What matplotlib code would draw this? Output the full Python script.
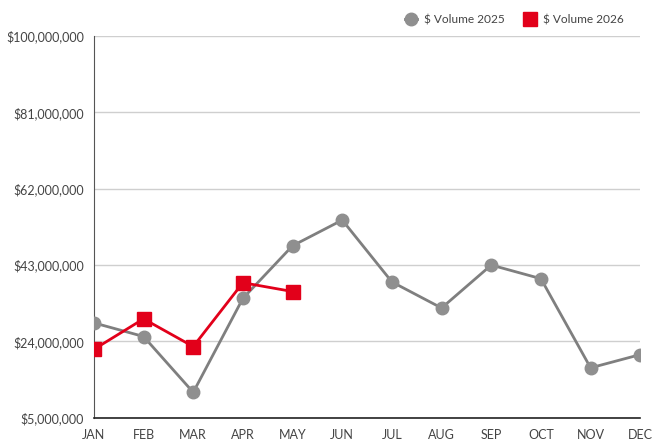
import matplotlib.pyplot as plt
from matplotlib.ticker import FuncFormatter

months = ['JAN', 'FEB', 'MAR', 'APR', 'MAY', 'JUN', 'JUL', 'AUG', 'SEP', 'OCT', 'NOV', 'DEC']
volume_2025 = [28.6, 25.2, 11.3, 34.7, 47.8, 54.2, 38.8, 32.3, 43.0, 39.6, 17.4, 20.7]  # $M
volume_2026 = [22.0, 29.6, 22.7, 38.6, 36.4]  # $M, Jan-May
yticks = [5, 24, 43, 62, 81, 100]

plt.rcParams['font.family'] = ['Lato', 'DejaVu Sans']

fig = plt.figure(figsize=(6.52, 4.41), dpi=100)
ax = fig.add_axes([0.144, 0.053, 0.838, 0.865])

x25 = range(len(volume_2025))
x26 = range(len(volume_2026))
ax.plot(x25, volume_2025, color='#7f7f7f', lw=2, marker='o', ms=9,
        mfc='#8f8f8f', mec='#8f8f8f', label='$ Volume 2025', zorder=3)
ax.plot(x26, volume_2026, color='#e2001a', lw=2, marker='s', ms=9.5,
        mfc='#e2001a', mec='#e2001a', label='$ Volume 2026', zorder=4)

ax.set_xlim(0, 11)
ax.set_ylim(5, 100)
ax.set_yticks(yticks)
ax.yaxis.set_major_formatter(FuncFormatter(lambda v, p: '${:,.0f}'.format(v * 1e6)))
ax.set_xticks(list(x25))
ax.set_xticklabels(months)
ax.tick_params(axis='both', length=0, labelsize=9, labelcolor='#444444')
ax.tick_params(axis='x', pad=8)
ax.tick_params(axis='y', pad=7)
ax.grid(axis='y', color='#cfcfcf', lw=1)
ax.set_axisbelow(True)

for side in ['top', 'right']:
    ax.spines[side].set_visible(False)
ax.spines['left'].set_color('#555555')
ax.spines['bottom'].set_color('#222222')
ax.spines['bottom'].set_linewidth(1.2)

ax.legend(loc='lower right', bbox_to_anchor=(0.99, 1.0), ncol=2, frameon=False,
          fontsize=8.6, handlelength=1.0, handletextpad=0.6, columnspacing=1.6,
          labelcolor='#444444')

fig.savefig('out.png', dpi=100)
